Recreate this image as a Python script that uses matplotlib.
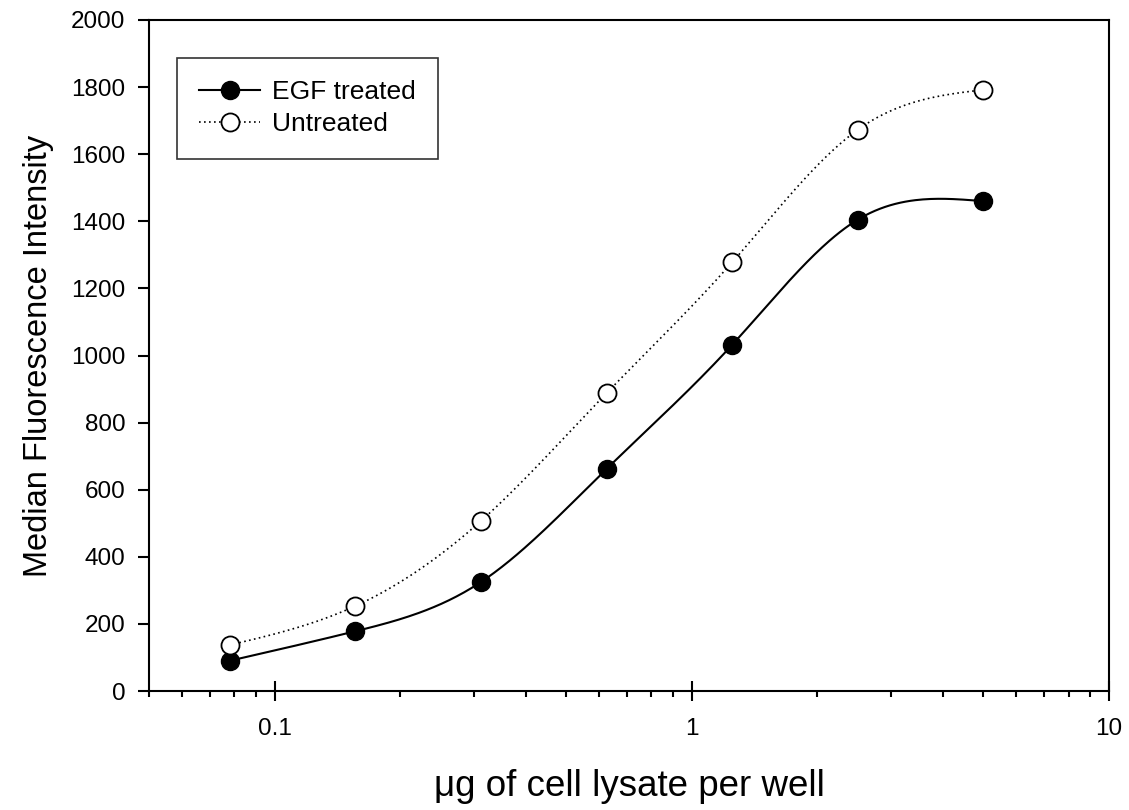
import numpy as np
import matplotlib
matplotlib.use("Agg")
import matplotlib.pyplot as plt
from matplotlib.ticker import LogLocator, FixedLocator, NullFormatter

plt.rcParams['font.family'] = ['Liberation Sans', 'DejaVu Sans']

lysate = [0.078, 0.156, 0.3125, 0.625, 1.25, 2.5, 5.0]
egf_treated = [90, 178, 325, 662, 1032, 1405, 1460]
untreated = [137, 253, 507, 888, 1278, 1673, 1792]
y_ticks = [0, 200, 400, 600, 800, 1000, 1200, 1400, 1600, 1800, 2000]
x_ticks = [0.1, 1, 10]
x_tick_labels = ["0.1", "1", "10"]


def natural_spline(xk, yk, n=300):
    xk = np.asarray(xk, float)
    yk = np.asarray(yk, float)
    m = len(xk)
    h = np.diff(xk)
    A = np.zeros((m, m))
    b = np.zeros(m)
    A[0, 0] = 1
    A[-1, -1] = 1
    for i in range(1, m - 1):
        A[i, i - 1] = h[i - 1]
        A[i, i] = 2 * (h[i - 1] + h[i])
        A[i, i + 1] = h[i]
        b[i] = 6 * ((yk[i + 1] - yk[i]) / h[i] - (yk[i] - yk[i - 1]) / h[i - 1])
    M = np.linalg.solve(A, b)
    xs = np.linspace(xk[0], xk[-1], n)
    idx = np.clip(np.searchsorted(xk, xs) - 1, 0, m - 2)
    x0 = xk[idx]; x1 = xk[idx + 1]; hh = x1 - x0
    t0 = x1 - xs; t1 = xs - x0
    ys = (M[idx] * t0**3 / (6 * hh) + M[idx + 1] * t1**3 / (6 * hh)
          + (yk[idx] / hh - M[idx] * hh / 6) * t0
          + (yk[idx + 1] / hh - M[idx + 1] * hh / 6) * t1)
    return xs, ys


fig = plt.figure(figsize=(11.29, 8.10), dpi=100)
ax = fig.add_axes([149 / 1129, 1 - 691 / 810, 960 / 1129, 671 / 810])

lx = np.log10(lysate)
xs, ys_e = natural_spline(lx, egf_treated)
_, ys_u = natural_spline(lx, untreated)

ax.plot(10**xs, ys_e, color='black', lw=1.5, zorder=2)
ax.plot(10**xs, ys_u, color='black', lw=1.2, ls=(0, (1, 2)), zorder=2)
ax.plot(lysate, egf_treated, 'o', color='black', ms=13, mec='black', mew=1, zorder=3)
ax.plot(lysate, untreated, 'o', color='white', ms=13, mec='black', mew=1.3, zorder=3)

# legend proxies
h1, = ax.plot([], [], color='black', lw=1.5, marker='o', ms=13, mfc='black', mec='black')
h2, = ax.plot([], [], color='black', lw=1.2, ls=(0, (1, 2)), marker='o', ms=13, mfc='white',
              mec='black', mew=1.3)
leg = ax.legend([h1, h2], ['EGF treated', 'Untreated'], loc='upper left',
                bbox_to_anchor=(28 / 960, (691 - 58) / 671), fontsize=19, frameon=True,
                fancybox=False, edgecolor='black', handlelength=2.3, borderpad=0.85,
                labelspacing=0.3, handletextpad=0.45, borderaxespad=0)
leg.get_frame().set_linewidth(1.2)

ax.set_xscale('log')
ax.set_xlim(0.05, 10)
ax.set_ylim(0, 2000)
ax.set_yticks(y_ticks)
ax.set_yticklabels([str(v) for v in y_ticks])
ax.xaxis.set_major_locator(FixedLocator(x_ticks))
ax.set_xticklabels(x_tick_labels)
ax.xaxis.set_minor_locator(LogLocator(base=10, subs=np.arange(2, 10)))
ax.xaxis.set_minor_formatter(NullFormatter())

ax.tick_params(axis='y', direction='out', length=8, width=1.5, labelsize=17.5, pad=9)
ax.tick_params(axis='x', which='major', direction='inout', length=15, width=1.5,
               labelsize=17.5, pad=12)
ax.tick_params(axis='x', which='minor', direction='out', length=4.5, width=1.5)
ax.tick_params(top=False, right=False)

for s in ax.spines.values():
    s.set_linewidth(1.5)

ax.set_ylabel('Median Fluorescence Intensity', fontsize=23.5, labelpad=12)
ax.set_xlabel('μg of cell lysate per well', fontsize=26.5, labelpad=21)

fig.savefig('out.png', dpi=100)
